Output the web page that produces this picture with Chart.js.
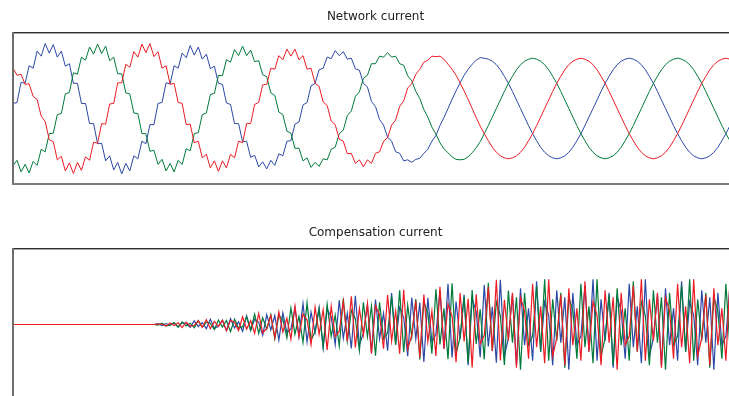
<!DOCTYPE html>
<html>
<head>
<meta charset="utf-8">
<script src="https://cdn.jsdelivr.net/npm/chart.js@4.4.1/dist/chart.umd.min.js"></script>
<style>
html,body{margin:0;padding:0;width:729px;height:396px;overflow:hidden;background:#fff;}
#top{position:absolute;left:0;top:0;}
#bot{position:absolute;left:0;top:200px;}
</style>
</head>
<body>
<canvas id="top" width="750" height="190"></canvas>
<canvas id="bot" width="750" height="200"></canvas>
<script>
// time axis, ms (one sample every 1/1.8 ms)
const timeMs = [
0,0.56,1.11,1.67,2.22,2.78,3.33,3.89,4.44,
5,5.56,6.11,6.67,7.22,7.78,8.33,8.89,9.44,
10,10.56,11.11,11.67,12.22,12.78,13.33,13.89,14.44,
15,15.56,16.11,16.67,17.22,17.78,18.33,18.89,19.44,
20,20.56,21.11,21.67,22.22,22.78,23.33,23.89,24.44,
25,25.56,26.11,26.67,27.22,27.78,28.33,28.89,29.44,
30,30.56,31.11,31.67,32.22,32.78,33.33,33.89,34.44,
35,35.56,36.11,36.67,37.22,37.78,38.33,38.89,39.44,
40,40.56,41.11,41.67,42.22,42.78,43.33,43.89,44.44,
45,45.56,46.11,46.67,47.22,47.78,48.33,48.89,49.44,
50,50.56,51.11,51.67,52.22,52.78,53.33,53.89,54.44,
55,55.56,56.11,56.67,57.22,57.78,58.33,58.89,59.44,
60,60.56,61.11,61.67,62.22,62.78,63.33,63.89,64.44,
65,65.56,66.11,66.67,67.22,67.78,68.33,68.89,69.44,
70,70.56,71.11,71.67,72.22,72.78,73.33,73.89,74.44,
75,75.56,76.11,76.67,77.22,77.78,78.33,78.89,79.44,
80,80.56,81.11,81.67,82.22,82.78,83.33,83.89,84.44,
85,85.56,86.11,86.67,87.22,87.78,88.33,88.89,89.44,
90,90.56,91.11,91.67,92.22,92.78,93.33,93.89,94.44,
95,95.56,96.11,96.67,97.22,97.78,98.33,98.89,99.44,
100];

// Network current (A)
const netRed = [
8.0,6.6,6.8,4.8,4.9,2.4,1.8,-1.5,-2.6,-6.2,-6.6,-10.2,-9.5,-12.4,-10.8,-12.9,-10.7,-12.3,-9.6,-10.3,-6.7,-6.9,-3.0,-3.1,0.9,1.0,5.1,5.1,8.8,8.2,11.3,10.2,12.8,11.1,12.9,10.3,
11.3,8.0,8.5,4.8,5.0,1.2,1.0,-3.2,-3.1,
-6.8,-6.5,-9.8,-9.1,-11.8,-10.4,-12.5,-10.4,-11.8,-9.1,-9.8,-6.5,-6.8,-3.0,-3.0,0.8,1.2,4.7,
4.8,8.0,7.8,10.5,9.7,11.8,10.4,11.8,9.7,10.5,7.8,8.0,5.0,4.4,1.3,0.6,-2.5,-3.2,
-6.1,-6.5,-9.0,-8.9,-10.9,-10.2,-11.6,-10.2,-10.9,
-8.9,-8.6,-6.5,-5.8,-3.3,-2.3,0.4,1.5,4.1,
4.9,6.8,7.8,9.2,9.6,10.4,10.3,10.4,9.8,
8.8,7.8,6.6,5.1,3.5,1.8,0,-1.8,-3.5,
-5.0,-6.4,-7.7,-8.7,-9.4,-9.8,-10.0,-9.8,-9.4,-8.7,-7.7,-6.4,-5.0,-3.4,-1.7,
0,
1.7,3.4,5.0,6.4,7.7,8.7,9.4,9.8,10.0,9.8,9.4,8.7,7.7,6.4,5.0,3.4,1.7,0,-1.7,-3.4,-5.0,-6.4,-7.7,-8.7,-9.4,-9.8,-10.0,-9.8,-9.4,-8.7,-7.7,-6.4,-5.0,-3.4,-1.7,
0,
1.7,3.4,5.0,6.4,7.7,8.7,9.4,9.8,10.0,9.8,9.4,8.7];

const netGreen = [
-11.3,-10.3,-12.6,-11.1,-12.8,-10.5,-11.3,-8.1,-8.6,-5.0,-4.9,-1.2,-1.0,2.9,3.2,7.1,6.8,10.2,9.6,12.2,10.8,12.8,10.9,12.4,9.5,10.2,6.9,6.9,3.1,2.9,-0.9,-1.0,-5.0,-5.0,-8.5,-8.3,
-11.1,-10.1,-12.4,-10.9,-12.6,-10.3,-11.1,-8.0,-8.4,
-5.0,-4.8,-1.2,-0.9,2.8,3.0,6.6,6.5,9.7,9.2,11.7,10.5,12.4,10.5,11.6,9.3,9.5,6.7,
6.3,3.1,2.6,-0.7,-1.2,-4.5,-4.9,-7.9,-7.9,-10.4,-9.8,-11.7,-10.7,-11.5,-10.0,-10.2,-8.1,-7.7,
-5.0,-4.3,-1.4,-0.5,2.4,3.3,6.0,6.6,8.9,
8.9,10.4,10.2,11.1,10.2,10.4,8.9,8.6,6.5,
5.5,3.4,2.0,-0.2,-1.7,-3.7,-5.1,-6.8,-8.0,
-8.8,-9.6,-10.1,-10.2,-10.1,-9.6,-8.8,-7.8,-6.6,
-5.0,-3.4,-1.7,
0,
1.7,3.4,5.0,6.4,7.7,8.7,9.4,9.8,10.0,9.8,9.4,8.7,7.7,6.4,5.0,3.4,1.7,0,-1.7,-3.4,-5.0,-6.4,-7.7,-8.7,-9.4,-9.8,-10.0,-9.8,-9.4,-8.7,-7.7,-6.4,-5.0,-3.4,-1.7,
0,
1.7,3.4,5.0,6.4,7.7,8.7,9.4,9.8,10.0,9.8,9.4,8.7,7.7,6.4,5.0,3.4,1.7,0,-1.7,-3.4,-5.0,-6.4,-7.7,-8.7];

const netBlue = [
1.0,1.2,5.2,5.0,8.5,8.0,11.4,10.4,12.9,11.0,12.7,10.2,11.4,8.4,8.9,5.0,5.0,1.0,1.0,-3.0,-3.0,-7.0,-6.9,-10.4,-9.4,-12.2,-10.7,-13.0,-10.9,-12.4,-9.4,-10.0,-6.5,-7.0,-3.2,-3.2,
1.0,1.2,5.1,4.9,8.5,8.0,11.0,10.1,12.5,
10.6,12.2,9.8,10.8,7.9,8.4,5.0,4.8,1.1,0.8,-3.0,-3.0,-6.6,-6.5,-9.7,-9.3,-11.6,-10.6,
-12.0,-10.3,-11.3,-9.0,-9.4,-6.5,-6.4,-3.1,-2.7,0.7,1.2,4.5,5.0,7.7,8.0,10.2,9.9,11.5,
10.5,11.3,9.8,10.0,7.9,7.6,5.0,4.3,1.4,
0.4,-2.2,-3.3,-5.7,-6.5,-8.6,-8.9,-10.4,-10.2,
-10.7,-10.1,-9.9,-8.9,-8.1,-6.5,-5.4,-3.4,-1.8,
0,1.8,3.5,5.1,6.6,7.8,8.8,9.6,10.1,
10.0,9.8,9.4,8.7,7.7,6.4,5.0,3.4,1.7,0,-1.7,-3.4,-5.0,-6.4,-7.7,-8.7,-9.4,-9.8,-10.0,-9.8,-9.4,-8.7,-7.7,-6.4,-5.0,-3.4,-1.7,
0,
1.7,3.4,5.0,6.4,7.7,8.7,9.4,9.8,10.0,9.8,9.4,8.7,7.7,6.4,5.0,3.4,1.7,0,-1.7,-3.4,-5.0,-6.4,-7.7,-8.7,-9.4,-9.8,-10.0,-9.8,-9.4,-8.7,-7.7,-6.4,-5.0,-3.4,-1.7,
0];

// Compensation current (A)
const compRed = [
0,0,0,0,0,0,0,0,0,0,0,0,0,0,0,0,0,0,0,0,0,0,0,0,0,0,0,0,0,0,0,0,0,0,0,0,
0.08,0.05,-0.32,0.32,-0.2,0.34,-0.62,0.48,-0.33,-0.2,0.73,-0.55,0.98,-0.83,0.61,-0.41,0.88,-1.27,0.85,0.45,-1.2,1.53,-0.9,0.76,
-1.74,2.2,-1.68,-0.78,1.79,-2.66,2.48,-1.49,1.23,-2.92,3.66,-2.4,2.08,0.86,-4.0,3.45,-1.9,2.94,-5.05,3.64,-2.39,-1.34,4.63,-3.3,
5.6,-4.56,3.19,-2.07,4.2,-5.8,3.72,1.89,-4.8,5.85,-3.3,2.68,-5.78,6.9,-4.9,-2.13,4.68,-6.57,5.96,-3.4,2.7,-6.24,7.51,-4.8,
4.05,1.64,-7.47,6.26,-3.36,5.1,-8.55,6.02,-3.89,-2.18,7.44,-5.28,8.9,-7.12,4.92,-3.15,
6.3,-8.6,5.4,2.7,-6.8,8.1,-4.5,3.6,-7.7,9.0,-6.3,-2.7,5.9,-8.1,7.2,-4.1,3.2,-7.2,8.6,-5.4,4.5,1.8,-8.1,6.8,-3.6,5.4,-9.0,6.3,-4.1,-2.3,7.7,-5.4,
9.0,-7.2,5.0,-3.2,6.3,-8.6,5.4,2.7,-6.8,8.1,-4.5,3.6,-7.7,9.0,-6.3,-2.7,5.9,-8.1,7.2,-4.1,3.2,-7.2,8.6,-5.4,4.5];

const compGreen = [
0,0,0,0,0,0,0,0,0,0,0,0,0,0,0,0,0,0,0,0,0,0,0,0,0,0,0,0,0,0,0,0,0,0,0,0,
-0.13,0.25,-0.25,-0.13,0.33,-0.5,0.5,-0.31,0.26,-0.64,0.82,-0.55,0.49,0.21,-0.99,0.89,-0.5,0.8,-1.42,1.05,-0.72,-0.43,1.53,-1.14,
2.05,-1.76,1.32,-0.91,1.93,-2.8,1.86,0.99,-2.63,3.29,-1.93,1.6,-3.53,4.3,-3.12,-1.38,3.09,-4.41,4.04,-2.34,1.86,-4.28,5.18,-3.3,
2.8,1.14,-5.22,4.43,-2.4,3.66,-6.2,4.41,-2.88,-1.63,5.61,-4.02,6.8,-5.52,3.85,-2.49,5.04,-6.94,4.47,2.27,-5.78,7.02,-3.95,3.2,
-6.89,8.2,-5.81,-2.51,5.46,-7.65,6.84,-3.87,3.03,-6.96,8.31,-5.28,4.45,1.78,-8.06,6.75,
-3.6,5.4,-9.0,6.3,-4.1,-2.3,7.7,-5.4,
9.0,-7.2,5.0,-3.2,6.3,-8.6,5.4,2.7,-6.8,8.1,-4.5,3.6,-7.7,9.0,-6.3,-2.7,5.9,-8.1,7.2,-4.1,3.2,-7.2,8.6,-5.4,4.5,1.8,-8.1,6.8,-3.6,5.4,-9.0,6.3,-4.1,-2.3,7.7,-5.4,
9.0,-7.2,5.0,-3.2,6.3,-8.6,5.4,2.7,-6.8,8.1,-4.5,3.6,-7.7];

const compBlue = [
0,0,0,0,0,0,0,0,0,0,0,0,0,0,0,0,0,0,0,0,0,0,0,0,0,0,0,0,0,0,0,0,0,0,0,0,
0.15,-0.2,0.19,-0.15,0.35,-0.53,0.37,0.2,-0.56,0.72,-0.43,0.37,-0.83,1.04,-0.77,-0.35,0.82,-1.21,1.14,-0.68,0.56,-1.36,1.71,-1.14,
1.03,0.44,-2.16,1.95,-1.1,1.77,-3.1,2.31,-1.58,-0.91,3.27,-2.4,4.15,-3.44,2.45,-1.61,3.33,-4.66,3.03,1.56,-3.98,4.82,-2.73,2.2,
-4.76,5.7,-4.06,-1.77,3.9,-5.49,4.96,-2.84,2.24,-5.2,6.27,-4.02,3.4,1.38,-6.3,5.33,-2.88,4.38,-7.45,5.29,-3.47,-1.95,6.72,-4.8,
8.1,-6.56,4.57,-2.92,5.88,-8.08,5.13,2.58,-6.49,7.83,-4.38,3.52,-7.57,8.9,-6.27,-2.7,
5.9,-8.1,7.2,-4.1,3.2,-7.2,8.6,-5.4,4.5,1.8,-8.1,6.8,-3.6,5.4,-9.0,6.3,-4.1,-2.3,7.7,-5.4,
9.0,-7.2,5.0,-3.2,6.3,-8.6,5.4,2.7,-6.8,8.1,-4.5,3.6,-7.7,9.0,-6.3,-2.7,5.9,-8.1,7.2,-4.1,3.2,-7.2,8.6,-5.4,4.5,1.8,-8.1,6.8,-3.6,5.4,-9.0,6.3,-4.1,-2.3,7.7,-5.4,
9.0];

const titles = ['Network current', 'Compensation current'];
const colRed = 'rgb(236,28,36)';
const colGreen = 'rgb(0,122,58)';
const colBlue = 'rgb(44,72,166)';

function pts(arr){ return arr.map((v,i)=>({x: timeMs[i], y: v})); }

const framePlugin = {
  id: 'frame',
  afterDatasetsDraw(chart, args, opts) {
    const {ctx, chartArea: a} = chart;
    ctx.save();
    ctx.fillStyle = '#2e2e2e';
    ctx.fillRect(a.left - 1, a.top - 1, chart.width, 1);
    ctx.fillStyle = '#a8a8a8';
    ctx.fillRect(a.left - 1, a.top, chart.width, 1);
    ctx.fillStyle = '#6e6e6e';
    ctx.fillRect(a.left - 1, a.top - 1, 2, a.bottom - a.top + 2);
    if (opts.bottom) {
      ctx.fillStyle = '#7c7c7c';
      ctx.fillRect(a.left - 1, a.bottom - 1, chart.width, 2);
    }
    ctx.restore();
  }
};

function makeChart(id, title, r, g, b, titlePad, layoutPad, bottomLine, lw) {
  return new Chart(document.getElementById(id), {
    type: 'line',
    data: {
      datasets: [
        {data: pts(r), borderColor: colRed},
        {data: pts(g), borderColor: colGreen},
        {data: pts(b), borderColor: colBlue}
      ]
    },
    options: {
      responsive: false,
      animation: false,
      devicePixelRatio: 1,
      events: [],
      layout: {padding: layoutPad},
      elements: {
        point: {radius: 0},
        line: {borderWidth: lw, tension: 0, fill: false}
      },
      scales: {
        x: {type: 'linear', min: 0, max: 100, display: false},
        y: {type: 'linear', min: -15, max: 15, display: false}
      },
      plugins: {
        legend: {display: false},
        tooltip: {enabled: false},
        title: {
          display: true,
          text: title,
          color: '#222',
          font: {family: 'DejaVu Sans', size: 12, weight: 'normal', lineHeight: 1.2},
          padding: titlePad
        },
        frame: {bottom: bottomLine}
      }
    },
    plugins: [framePlugin]
  });
}

makeChart('top', titles[0], netRed, netGreen, netBlue,
  {top: 10, bottom: 8.6}, {left: 13, right: 12, top: 0, bottom: 6}, true, 1);
makeChart('bot', titles[1], compRed, compGreen, compBlue,
  {top: 25.8, bottom: 8.8}, {left: 13, right: 12, top: 0, bottom: 0}, false, 1.2);
</script>
</body>
</html>
